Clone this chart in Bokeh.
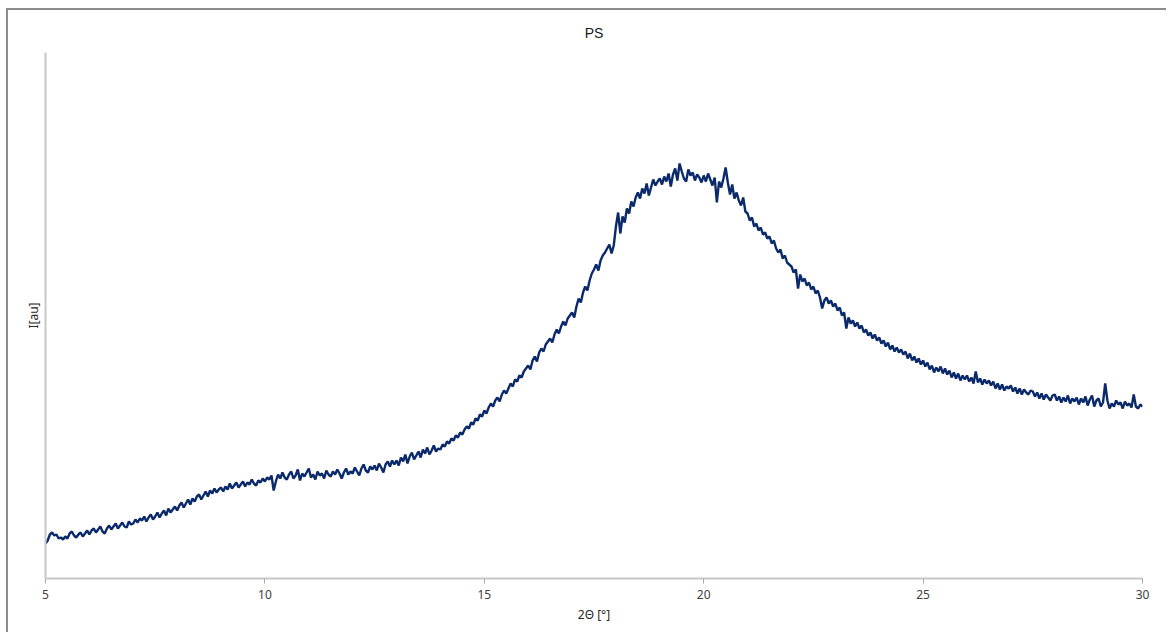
from bokeh.plotting import figure
from bokeh.models import Range1d, FixedTicker
from bokeh.embed import file_html
from bokeh.resources import INLINE

# 2-theta sampling grid (degrees), step 0.05 from 5.00 to 30.00
two_theta = [round(5.0 + 0.05 * i, 2) for i in range(501)]

# Intensity (arbitrary units); one row per 0.5 degree
intensity = [
    35, 38, 44, 46, 43, 44, 40, 41, 39, 42,            # 5.0
    40, 45, 47, 43, 41, 44, 46, 42, 45, 48,            # 5.5
    44, 48, 50, 46, 49, 52, 47, 45, 50, 53,            # 6.0
    49, 52, 55, 50, 53, 56, 52, 51, 57, 54,            # 6.5
    55, 59, 56, 60, 58, 62, 57, 61, 64, 59,            # 7.0
    62, 66, 61, 65, 68, 63, 70, 66, 69, 72,            # 7.5
    68, 73, 76, 71, 75, 79, 74, 80, 77, 82,            # 8.0
    84, 79, 83, 87, 82, 88, 85, 90, 86, 89,            # 8.5
    91, 87, 92, 89, 95, 90, 93, 96, 91, 94,            # 9.0
    97, 92, 96, 94, 99, 95, 93, 98, 96, 100,           # 9.5
    97, 101, 99, 103, 88, 97, 104, 100, 106, 101,      # 10.0
    99, 104, 107, 100, 103, 109, 98, 105, 102, 106,    # 10.5
    110, 101, 104, 99, 107, 103, 105, 100, 108, 104,   # 11.0
    102, 107, 104, 109, 105, 100, 106, 110, 104, 107,  # 11.5
    105, 111, 107, 103, 110, 114, 108, 106, 112, 109,  # 12.0
    113, 108, 115, 111, 106, 114, 117, 112, 118, 114,  # 12.5
    118, 113, 121, 117, 124, 115, 122, 126, 119, 123,  # 13.0
    127, 121, 129, 125, 131, 124, 128, 133, 127, 130,  # 13.5
    129, 134, 132, 137, 135, 140, 138, 143, 141, 146,  # 14.0
    144, 149, 152, 150, 156, 154, 160, 158, 164, 162,  # 14.5
    168, 165, 171, 175, 172, 178, 181, 177, 184, 188,  # 15.0
    185, 190, 195, 192, 199, 197, 203, 201, 207, 210,  # 15.5
    213, 209, 218, 222, 217, 226, 230, 227, 234, 237,  # 16.0
    240, 236, 244, 249, 245, 252, 257, 253, 260, 263,  # 16.5
    266, 261, 272, 280, 276, 286, 292, 288, 298, 305,  # 17.0
    309, 314, 308, 318, 323, 326, 330, 334, 325, 333,  # 17.5
    352, 366, 345, 362, 356, 370, 365, 377, 372, 381,  # 18.0
    386, 380, 390, 385, 395, 383, 391, 399, 393, 397,  # 18.5
    400, 394, 402, 397, 405, 392, 404, 410, 398, 415,  # 19.0
    407, 400, 397, 409, 403, 406, 398, 404, 401, 396,  # 19.5
    403, 397, 405, 399, 393, 401, 376, 397, 391, 400,  # 20.0
    411, 396, 384, 394, 380, 386, 378, 373, 381, 367,  # 20.5
    365, 358, 361, 352, 355, 348, 351, 344, 346, 340,  # 21.0
    342, 335, 338, 330, 326, 329, 320, 323, 316, 314,  # 21.5
    312, 306, 309, 290, 304, 297, 300, 293, 296, 289,  # 22.0
    292, 285, 288, 281, 270, 278, 281, 275, 278, 272,  # 22.5
    275, 268, 271, 263, 266, 250, 261, 255, 258, 252,  # 23.0
    256, 250, 253, 246, 249, 243, 246, 240, 244, 238,  # 23.5
    241, 235, 238, 232, 236, 229, 233, 227, 231, 226,  # 24.0
    229, 224, 227, 220, 225, 218, 222, 216, 220, 214,  # 24.5
    218, 212, 216, 209, 213, 206, 211, 207, 212, 205,  # 25.0
    210, 204, 208, 201, 206, 200, 205, 198, 203, 199,  # 25.5
    203, 197, 201, 195, 207, 196, 200, 194, 199, 195,  # 26.0
    198, 193, 197, 190, 195, 189, 194, 188, 192, 190,  # 26.5
    193, 187, 191, 185, 190, 184, 189, 186, 184, 188,  # 27.0
    187, 182, 186, 180, 185, 179, 184, 181, 178, 183,  # 27.5
    184, 178, 182, 176, 181, 177, 183, 175, 180, 177,  # 28.0
    181, 174, 180, 176, 182, 173, 179, 183, 172, 178,  # 28.5
    180, 172, 176, 195, 178, 170, 175, 172, 178, 174,  # 29.0
    176, 170, 177, 173, 175, 171, 184, 172, 170, 174,  # 29.5
    172,                                               # 30.0
]

x_ticks = [5, 10, 15, 20, 25, 30]

FONT = "Noto Sans"

p = figure(
    width=1160, height=624,
    x_range=Range1d(5, 30), y_range=Range1d(0, 526),
    output_backend="svg", toolbar_location=None,
    min_border_left=37, min_border_right=26,
    min_border_top=42, min_border_bottom=56,
    title="PS",
)
p.styles = {
    "margin-left": "6px", "margin-top": "8px",
    "border-left": "2px solid #8c8c8c", "border-top": "2px solid #8c8c8c",
}

p.title.align = "center"
p.title.text_font = "Liberation Sans"
p.title.text_font_size = "14px"
p.title.text_font_style = "normal"
p.title.text_color = "#1a1a1a"
p.title.standoff = 24

p.outline_line_color = None
p.xgrid.visible = False
p.ygrid.visible = False

xa = p.xaxis[0]
xa.ticker = FixedTicker(ticks=x_ticks)
xa.axis_line_color = "#c8c8c8"
xa.axis_line_width = 2
xa.major_tick_line_color = "#a8a8a8"
xa.major_tick_in = 0
xa.major_tick_out = 5
xa.minor_tick_line_color = None
xa.major_label_text_font = FONT
xa.major_label_text_font_size = "12px"
xa.major_label_text_color = "#404040"
xa.major_label_standoff = 6
xa.axis_label = "2Θ [°]"
xa.axis_label_text_font = FONT
xa.axis_label_text_font_size = "12px"
xa.axis_label_text_font_style = "normal"
xa.axis_label_text_color = "#262626"
xa.axis_label_standoff = 4

ya = p.yaxis[0]
ya.ticker = FixedTicker(ticks=[])
ya.axis_line_color = "#c8c8c8"
ya.axis_line_width = 2
ya.major_tick_line_color = None
ya.minor_tick_line_color = None
ya.major_label_text_font_size = "0px"
ya.axis_label = "I[au]"
ya.axis_label_text_font = FONT
ya.axis_label_text_font_size = "12px"
ya.axis_label_text_font_style = "normal"
ya.axis_label_text_color = "#262626"
ya.axis_label_standoff = 4

p.line(two_theta, intensity, line_color="#0b2a6b", line_width=2.4)

open("out.html", "w").write(file_html(p, INLINE))
